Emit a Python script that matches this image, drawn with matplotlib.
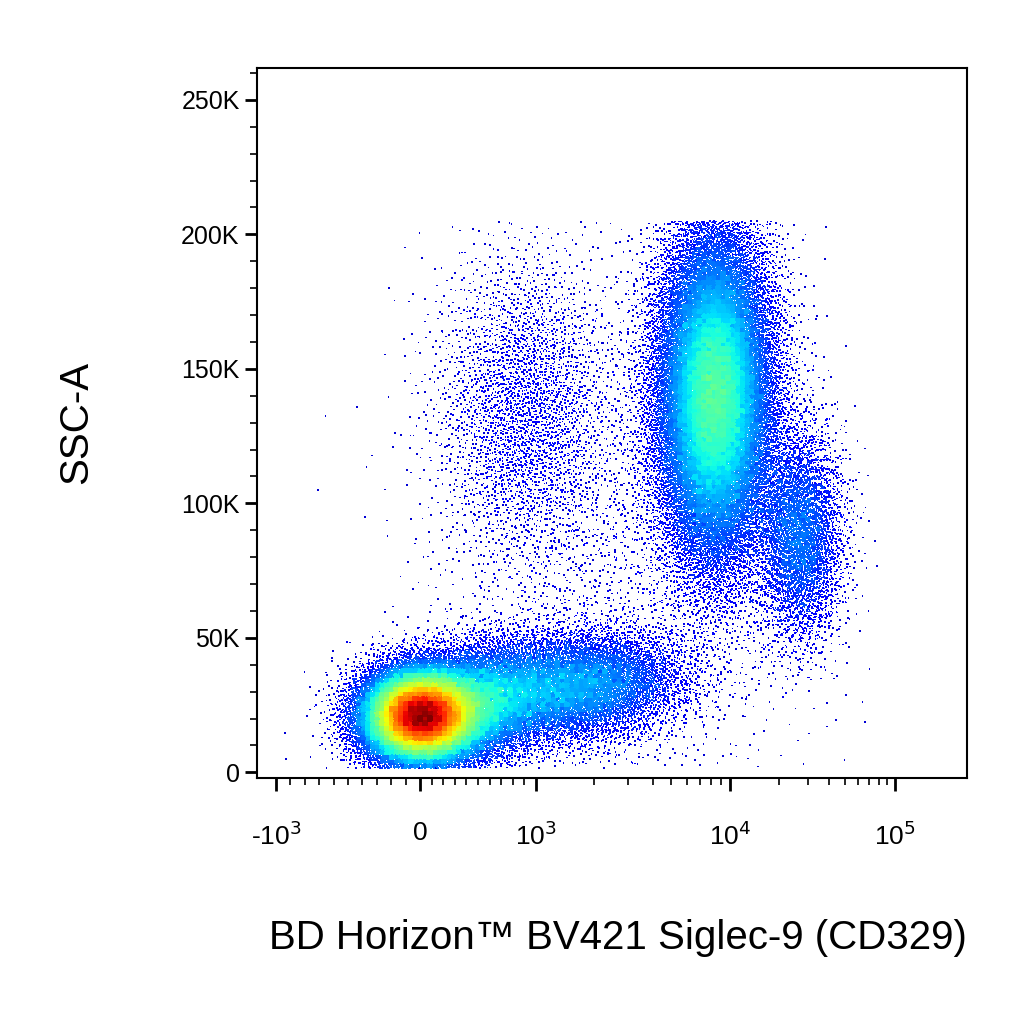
import numpy as np
import matplotlib
matplotlib.use("Agg")
import matplotlib.pyplot as plt

plt.rcParams['font.family'] = ['Liberation Sans', 'DejaVu Sans']

# x axis anchors (data value -> axis position units)
x_anchor_vals = [-1000, 0, 1000, 10000, 100000]
x_anchor_pos = [276, 420, 536, 730, 895]
x_tick_labels = ['-10$^3$', '0', '10$^3$', '10$^4$', '10$^5$']
y_ticks = [0, 50000, 100000, 150000, 200000, 250000]
y_tick_labels = ['0', '50K', '100K', '150K', '200K', '250K']

# Populations: center x (axis units), center y, sd x, sd y, count
pop_cx = [420, 480, 585, 715, 800, 525, 620]
pop_cy = [21000, 26000, 32000, 140000, 88000, 135000, 80000]
pop_sx = [30, 45, 50, 30, 22, 45, 90]
pop_sy = [9000, 11000, 10000, 32000, 20000, 30000, 50000]
pop_n = [26000, 10000, 7000, 30000, 4500, 3000, 2000]
pop_rot = [0, 0.12, 0.05, 0, 0, 0, 0]   # slope of y vs x (K per unit)


def pos(v):
    v = np.asarray(v, float)
    out = np.empty_like(v)
    neg = v < -1000
    lin = (v >= -1000) & (v <= 1000)
    hi = v > 1000
    out[lin] = np.interp(v[lin], [-1000, 0, 1000], [276, 420, 536])
    out[hi] = np.interp(np.log10(v[hi]), [3, 4, 5], [536, 730, 895])
    out[neg] = 276 - (np.log10(-v[neg]) - 3) * 165
    return out


def halton(n, base):
    res = np.zeros(n)
    i = np.arange(1, n + 1)
    f = 1.0
    while np.any(i > 0):
        f /= base
        res += f * (i % base)
        i //= base
    return res

xs, ys = [], []
bases = [(2, 3), (5, 7), (11, 13), (2, 5), (3, 7), (5, 11), (3, 13)]
for k in range(len(pop_cx)):
    n = pop_n[k]
    b1, b2 = bases[k]
    u1 = np.clip(halton(n, b1), 1e-9, 1)
    u2 = halton(n, b2)
    r = np.sqrt(-2 * np.log(u1))
    z1 = r * np.cos(2 * np.pi * u2)
    z2 = r * np.sin(2 * np.pi * u2)
    x = pop_cx[k] + pop_sx[k] * z1
    y = pop_cy[k] + pop_sy[k] * z2 + pop_rot[k] * 1000 * (x - pop_cx[k]) * 0.5
    xs.append(x); ys.append(y)
x = np.concatenate(xs); y = np.concatenate(ys)
m = (y > 1500) & (y < 205000) & (x > 280) & (x < 885)
x = x[m]; y = y[m]

H, xe, ye = np.histogram2d(x, y, bins=[150, 150], range=[[257, 967], [-2000, 262000]])
ix = np.clip(np.digitize(x, xe) - 1, 0, 149)
iy = np.clip(np.digitize(y, ye) - 1, 0, 149)
d = H[ix, iy]
c = (d / d.max()) ** 0.7
order = np.argsort(c)

fig = plt.figure(figsize=(10.24, 10.24), dpi=100)
ax = fig.add_axes([0.251, 0.240, 0.693, 0.694])
ax.scatter(x[order], y[order], c=c[order], cmap='jet', s=1.5, marker='s', linewidths=0, vmin=-0.05, vmax=1.0)
ax.set_xlim(257, 967)
ax.set_ylim(-2200, 262000)

ax.set_xticks(x_anchor_pos)
ax.set_xticklabels(x_tick_labels, fontsize=19)
minor = list(pos(np.array([-100*i for i in range(1, 10)] + [100*i for i in range(1, 10)] +
                      [m_*10**e for e in (3, 4) for m_ in range(2, 10)] + [-m_*1000 for m_ in range(2, 10)])))
minor = [p for p in minor if 257 < p < 967]
ax.set_xticks(minor, minor=True)
ax.set_yticks(y_ticks)
ax.set_yticklabels(y_tick_labels, fontsize=18)
ax.set_yticks(np.arange(0, 262000, 10000), minor=True)
ax.tick_params(axis='both', which='major', length=9, width=2)
ax.tick_params(axis='x', which='major', pad=22)
ax.tick_params(axis='both', which='minor', length=5, width=1.2)
for s in ax.spines.values():
    s.set_linewidth(1.5)
ax.set_xlabel('BD Horizon™ BV421 Siglec-9 (CD329)', fontsize=29, labelpad=50, loc='right')
ax.set_ylabel('SSC-A', fontsize=29, labelpad=62)
fig.savefig('out.png', dpi=100)
